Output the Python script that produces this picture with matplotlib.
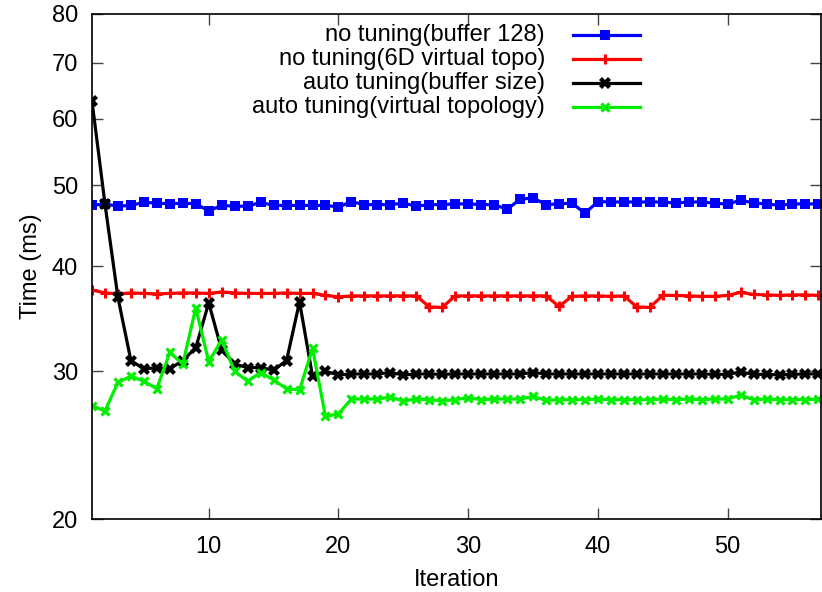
import matplotlib
matplotlib.use("Agg")
import matplotlib.pyplot as plt
from matplotlib.ticker import FixedLocator, FixedFormatter, NullLocator

plt.rcParams['font.family'] = ['Liberation Sans', 'DejaVu Sans']

iterations = list(range(1, 58))

no_tuning_buffer = [47.3, 47.5, 47.2, 47.3, 47.7, 47.6, 47.5, 47.6, 47.5, 46.6,
                    47.3, 47.2, 47.2, 47.7, 47.3, 47.3, 47.3, 47.3, 47.3, 47.1,
                    47.8, 47.4, 47.4, 47.4, 47.6, 47.2, 47.4, 47.4, 47.5, 47.5,
                    47.4, 47.4, 46.8, 48.1, 48.3, 47.4, 47.5, 47.6, 46.3, 47.8,
                    47.75, 47.75, 47.75, 47.75, 47.75, 47.6, 47.75, 47.75, 47.6, 47.45,
                    48.0, 47.6, 47.5, 47.3, 47.5, 47.5, 47.5]

no_tuning_topo = [37.5, 37.2, 37.1, 37.2, 37.15, 37.1, 37.15, 37.2, 37.2, 37.15,
                  37.3, 37.2, 37.15, 37.15, 37.15, 37.2, 37.15, 37.15, 36.95, 36.8,
                  36.9, 36.9, 36.9, 36.9, 36.9, 36.9, 35.8, 35.75, 36.9, 36.9,
                  36.9, 36.9, 36.9, 36.9, 36.9, 36.9, 35.85, 36.85, 36.9, 36.9,
                  36.85, 36.9, 35.8, 35.75, 36.95, 36.95, 36.9, 36.85, 36.85, 36.95,
                  37.25, 37.05, 37.0, 36.95, 37.0, 37.0, 36.95]

auto_buffer = [63.0, 47.5, 36.75, 30.9, 30.2, 30.3, 30.2, 30.9, 32.0, 36.2,
               31.8, 30.6, 30.3, 30.3, 30.1, 30.9, 36.3, 29.6, 30.0, 29.7,
               29.78, 29.78, 29.78, 29.9, 29.7, 29.78, 29.78, 29.75, 29.78, 29.78,
               29.78, 29.78, 29.78, 29.78, 29.9, 29.78, 29.78, 29.78, 29.78, 29.78,
               29.78, 29.78, 29.78, 29.78, 29.78, 29.78, 29.78, 29.78, 29.75, 29.75,
               29.95, 29.75, 29.75, 29.7, 29.75, 29.78, 29.78]

auto_topo = [27.3, 26.9, 29.1, 29.6, 29.2, 28.6, 31.6, 30.6, 35.7, 30.8,
             32.7, 30.0, 29.2, 29.9, 29.3, 28.6, 28.5, 31.95, 26.5, 26.7,
             27.8, 27.8, 27.8, 27.95, 27.65, 27.8, 27.75, 27.65, 27.75, 27.9,
             27.75, 27.8, 27.8, 27.8, 28.0, 27.7, 27.75, 27.75, 27.75, 27.8,
             27.75, 27.75, 27.75, 27.75, 27.8, 27.75, 27.8, 27.75, 27.8, 27.8,
             28.1, 27.75, 27.8, 27.75, 27.75, 27.75, 27.8]

labels = ["no tuning(buffer 128)", "no tuning(6D virtual topo)",
          "auto tuning(buffer size)", "auto tuning(virtual topology)"]
yticks = [20, 30, 40, 50, 60, 70, 80]
xticks = [10, 20, 30, 40, 50]

series = [no_tuning_buffer, no_tuning_topo, auto_buffer, auto_topo]
styles = [
    dict(color='#0000ff', marker='s', ms=6.5, mew=0),
    dict(color='#ff0000', marker='+', ms=7, mew=2.2),
    dict(color='#000000', marker='X', ms=8, mew=0),
    dict(color='#00ee00', marker='x', ms=6, mew=2.3),
]

FS = 17
fig = plt.figure(figsize=(8.22, 5.92), dpi=100)
ax = fig.add_axes([0.1119, 0.1233, 0.9988 - 0.1119, 0.9764 - 0.1233])

for s, st in zip(series, styles):
    ax.plot(iterations, s, lw=2.3, **st)

ax.set_yscale('log')
ax.set_ylim(20, 80)
ax.set_xlim(1, 57.2)
ax.yaxis.set_major_locator(FixedLocator(yticks))
ax.yaxis.set_major_formatter(FixedFormatter([str(v) for v in yticks]))
ax.yaxis.set_minor_locator(NullLocator())
ax.xaxis.set_major_locator(FixedLocator(xticks))
ax.xaxis.set_minor_locator(NullLocator())

ax.tick_params(direction='in', length=8, width=1, labelsize=FS,
               top=True, right=True, color='#444444')
ax.tick_params(axis='x', pad=12)
ax.tick_params(axis='y', pad=10)
for sp in ax.spines.values():
    sp.set_linewidth(1.2)

ax.set_xlabel("Iteration", fontsize=FS, labelpad=8)
ax.set_ylabel("Time (ms)", fontsize=FS, labelpad=7)

# gnuplot-style legend: right-aligned text, short sample line at right
row_y = [34.7, 59, 83.3, 107.3]
W, H = 822, 592
for lab, st, yp in zip(labels, styles, row_y):
    fy = 1 - yp / H
    fig.text(545 / W, fy, lab, ha='right', va='center', fontsize=FS)
    fig.add_artist(plt.Line2D([573 / W, 640 / W], [fy, fy], lw=2.3,
                              color=st['color']))
    fig.add_artist(plt.Line2D([605 / W], [fy], lw=0, **st))

fig.savefig("out.png", dpi=100)
